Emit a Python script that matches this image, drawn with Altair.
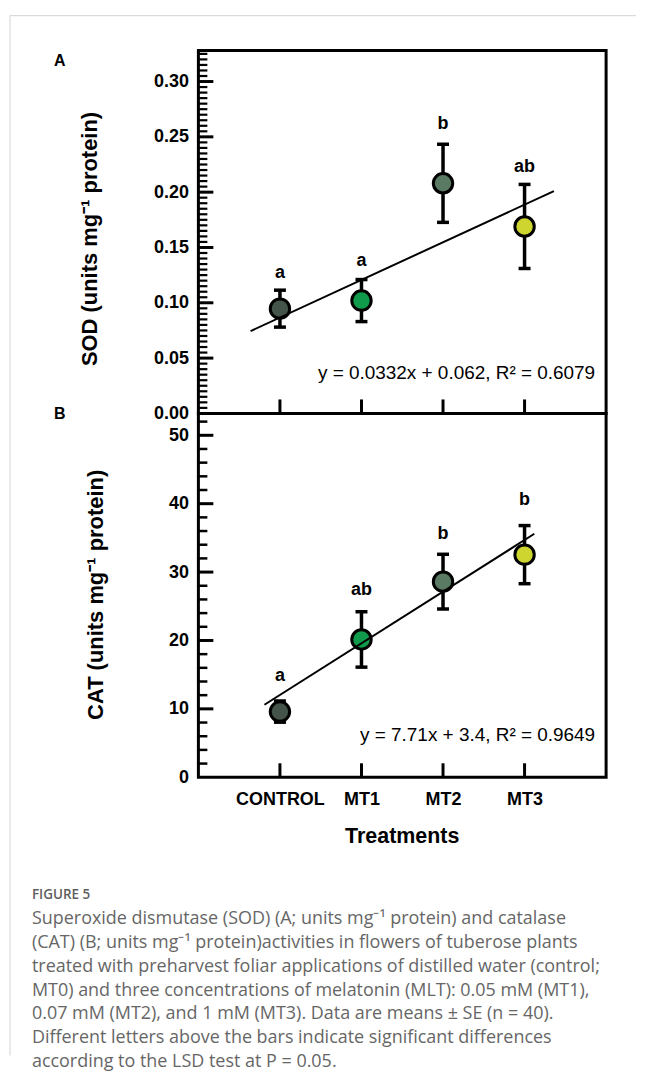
import altair as alt
import pandas as pd

# ---------------- data ----------------
treatments = ["CONTROL", "MT1", "MT2", "MT3"]
trt_index = [1, 2, 3, 4]

sod_mean = [0.0947, 0.102, 0.208, 0.169]
sod_se = [0.0167, 0.019, 0.0353, 0.038]
sod_letters = ["a", "a", "b", "ab"]
sod_letter_y = [0.1224, 0.1335, 0.2574, 0.2184]
sod_fit_x = [0.64, 4.36]
sod_fit_y = [0.0744, 0.201]
sod_equation = "y = 0.0332x + 0.062, R² = 0.6079"

cat_mean = [9.6, 20.15, 28.6, 32.55]
cat_se = [1.55, 4.05, 4.0, 4.25]
cat_letters = ["a", "ab", "b", "b"]
cat_letter_y = [14.1, 26.6, 34.9, 39.8]
cat_fit_x = [0.81, 4.12]
cat_fit_y = [10.6, 35.6]
cat_equation = "y = 7.71x + 3.4, R² = 0.9649"

sod_major = [0.0, 0.05, 0.10, 0.15, 0.20, 0.25, 0.30]
sod_minor = [round(i * 0.005, 3) for i in range(1, 66) if i % 10 != 0]
cat_major = [0, 10, 20, 30, 40, 50]
cat_minor = [i for i in range(2, 54, 2) if i % 10 != 0]

caption_head = "FIGURE 5"
caption_lines = [
    "Superoxide dismutase (SOD) (A; units mg⁻¹ protein) and catalase",
    "(CAT) (B; units mg⁻¹ protein)activities in flowers of tuberose plants",
    "treated with preharvest foliar applications of distilled water (control;",
    "MT0) and three concentrations of melatonin (MLT): 0.05 mM (MT1),",
    "0.07 mM (MT2), and 1 mM (MT3). Data are means ± SE (n = 40).",
    "Different letters above the bars indicate significant differences",
    "according to the LSD test at P = 0.05.",
]

# ---------------- styles ----------------
colors = ["#44544a", "#0f9b4b", "#5a7a63", "#cdd52e"]
FONT = "Liberation Sans"
CAP_FONT = "Open Sans"
W = 409
HA = 364
HB = 365

label_expr = "[" + ",".join("'%s'" % t for t in treatments) + "][datum.value - 1]"


def one(**kw):
    return pd.DataFrame({k: [v] for k, v in kw.items()})


def panel(mean, se, letters, letter_y, fit_x, fit_y, equation, ymax,
          major, minor, fmt, ytitle, title_pos, height, show_x, extras, minor_w):
    df = pd.DataFrame({
        "idx": trt_index, "trt": treatments, "mean": mean,
        "lo": [m - s for m, s in zip(mean, se)],
        "hi": [m + s for m, s in zip(mean, se)],
        "letter": letters, "ly": letter_y,
    })
    caps = pd.DataFrame({
        "idx": trt_index * 2,
        "cy": [m - s for m, s in zip(mean, se)] + [m + s for m, s in zip(mean, se)],
    })
    fit = pd.DataFrame({"fx": fit_x, "fy": fit_y})

    yscale = alt.Scale(domain=[0, ymax], nice=False, zero=False)
    yaxis = alt.Axis(values=major, format=fmt, title=None, ticks=False, domain=False,
                     grid=False, labelFont=FONT, labelFontSize=18, labelFontWeight="bold",
                     labelColor="black", labelPadding=10, labelOverlap=False,
                     labelFlush=False, labelBound=False, zindex=1)
    xscale = alt.Scale(domain=[0, 5], nice=False, zero=False)
    if show_x:
        xaxis = alt.Axis(values=trt_index, labelExpr=label_expr, title=None, ticks=False,
                         domain=False, grid=False, labelFont=FONT, labelFontSize=18,
                         labelFontWeight="bold", labelColor="black", labelPadding=13,
                         labelOverlap=False, labelFlush=False, labelBound=False, zindex=1)
    else:
        xaxis = None

    def X(f):
        return alt.X(f, type="quantitative", scale=xscale, axis=xaxis)

    def Y(f):
        return alt.Y(f, type="quantitative", scale=yscale, axis=yaxis)

    layers = list(extras)

    # inward minor / major y ticks
    layers.append(alt.Chart(pd.DataFrame({"t": minor})).mark_rule(color="black", strokeWidth=minor_w)
                  .encode(y=Y("t"), x=alt.value(0), x2=alt.value(9)))
    layers.append(alt.Chart(pd.DataFrame({"t": major[1:]})).mark_rule(color="black", strokeWidth=3)
                  .encode(y=Y("t"), x=alt.value(0), x2=alt.value(15)))
    # inward x ticks at the bottom
    layers.append(alt.Chart(df).mark_rule(color="black", strokeWidth=3)
                  .encode(x=X("idx"), y=alt.value(height), y2=alt.value(height - 14)))
    # error bars
    layers.append(alt.Chart(df).mark_rule(color="black", strokeWidth=3.5)
                  .encode(x=X("idx"), y=Y("lo"), y2="hi"))
    layers.append(alt.Chart(caps).mark_tick(color="black", orient="horizontal", size=12,
                                            thickness=3.5, opacity=1)
                  .encode(x=X("idx"), y=Y("cy")))
    # means
    layers.append(alt.Chart(df).mark_point(shape="circle", filled=True, size=380,
                                           stroke="black", strokeWidth=3, opacity=1)
                  .encode(x=X("idx"), y=Y("mean"),
                          fill=alt.Fill("trt:N", scale=alt.Scale(domain=treatments, range=colors),
                                        legend=None)))
    # regression line
    layers.append(alt.Chart(fit).mark_line(color="black", strokeWidth=2)
                  .encode(x=X("fx"), y=Y("fy")))
    # letters
    layers.append(alt.Chart(df).mark_text(font=FONT, fontSize=18, fontWeight="bold",
                                          baseline="alphabetic", align="center", color="black")
                  .encode(x=X("idx"), y=Y("ly"), text="letter:N"))
    # equation
    layers.append(alt.Chart(one(t=equation)).mark_text(font=FONT, fontSize=19, align="right",
                                                        baseline="alphabetic", color="black")
                  .encode(x=alt.value(398), y=alt.value(329), text="t:N"))
    # y title
    layers.append(alt.Chart(one(t=ytitle)).mark_text(font=FONT, fontSize=22, fontWeight="bold",
                                                      angle=270, align="center", baseline="middle",
                                                      color="black")
                  .encode(x=alt.value(title_pos[0]), y=alt.value(title_pos[1]), text="t:N"))

    return alt.layer(*layers).properties(width=W, height=height)


# decorations living in panel A coordinates (panel A plot origin = page (197, 47))
deco_a = [
    alt.Chart(one(a=1)).mark_rule(color="#d4d4d4", strokeWidth=1)
    .encode(x=alt.value(-189), x2=alt.value(439), y=alt.value(-35)),
    alt.Chart(one(a=1)).mark_rule(color="#d4d4d4", strokeWidth=1)
    .encode(x=alt.value(-189), y=alt.value(-35), y2=alt.value(1008)),
    alt.Chart(one(t="A")).mark_text(font=FONT, fontSize=16, fontWeight="bold", baseline="middle",
                                    align="center", color="black")
    .encode(x=alt.value(-139), y=alt.value(10), text="t:N"),
    alt.Chart(one(t="B")).mark_text(font=FONT, fontSize=16, fontWeight="bold", baseline="middle",
                                    align="center", color="black")
    .encode(x=alt.value(-139), y=alt.value(365), text="t:N"),
]

# decorations living in panel B coordinates (panel B plot origin = page (197, 411))
deco_b = [
    alt.Chart(one(t="Treatments")).mark_text(font=FONT, fontSize=21.5, fontWeight="bold",
                                             baseline="alphabetic", align="center", color="black")
    .encode(x=alt.value(204.5), y=alt.value(431), text="t:N"),
    alt.Chart(one(t=caption_head)).mark_text(font=CAP_FONT, fontSize=13.5, fontWeight=600,
                                             baseline="alphabetic", align="left", color="#5e5e5e")
    .encode(x=alt.value(-167), y=alt.value(487), text="t:N"),
    alt.Chart(one(t="\n".join(caption_lines))).mark_text(font=CAP_FONT, fontSize=18,
                                                         baseline="alphabetic", align="left",
                                                         lineBreak="\n", lineHeight=24,
                                                         color="#666666")
    .encode(x=alt.value(-167), y=alt.value(512), text="t:N"),
]

panel_a = panel(sod_mean, sod_se, sod_letters, sod_letter_y, sod_fit_x, sod_fit_y, sod_equation,
                0.328, sod_major, sod_minor, ".2f", "SOD (units mg⁻¹ protein)", (-109, 189),
                HA, False, deco_a, 2.2)
panel_b = panel(cat_mean, cat_se, cat_letters, cat_letter_y, cat_fit_x, cat_fit_y, cat_equation,
                53.2, cat_major, cat_minor, "d", "CAT (units mg⁻¹ protein)", (-103, 182),
                HB, True, deco_b, 2.5)

chart = (
    alt.vconcat(panel_a, panel_b, spacing=0, bounds="flush")
    .properties(padding={"top": 4, "left": 0, "right": 0, "bottom": 0}, background="white")
    .configure_view(stroke="black", strokeWidth=3)
)

chart.save("out.html", embed_options={"renderer": "svg", "actions": False})
